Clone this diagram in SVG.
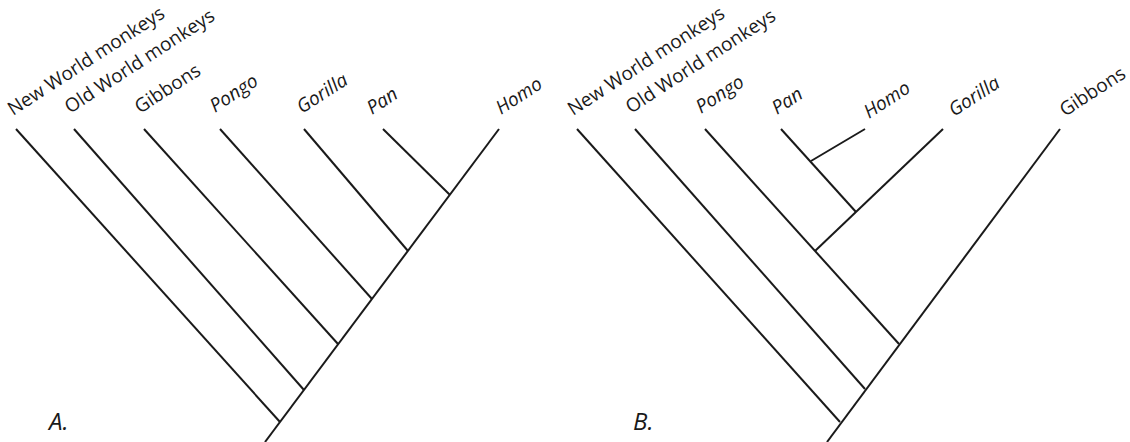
<svg xmlns="http://www.w3.org/2000/svg" width="1130" height="442" viewBox="0 0 1130 442">
<style>
.br{stroke:#1a1a1a;stroke-width:2;fill:none;stroke-linecap:butt}
.lb{font-family:"Open Sans","Noto Sans",sans-serif;font-size:19px;fill:#1a1a1a}
.it{font-style:italic}
.pl{font-family:"Open Sans","Noto Sans",sans-serif;font-size:24px;font-style:italic;fill:#1a1a1a}
</style>
<rect width="1130" height="442" fill="#ffffff"/>
<g id="connectors">
<g id="treeA-branches">
<line class="br" x1="265" y1="442" x2="499" y2="129"/>
<line class="br" x1="16" y1="129" x2="280" y2="422"/>
<line class="br" x1="74" y1="129" x2="304" y2="390"/>
<line class="br" x1="144" y1="129" x2="338" y2="344"/>
<line class="br" x1="220" y1="129" x2="372" y2="299"/>
<line class="br" x1="304" y1="129" x2="408" y2="251"/>
<line class="br" x1="383" y1="129" x2="450" y2="195"/>
</g>
<g id="treeB-branches">
<line class="br" x1="827" y1="442" x2="1060" y2="129"/>
<line class="br" x1="577" y1="129" x2="840" y2="422"/>
<line class="br" x1="635" y1="129" x2="865" y2="389"/>
<line class="br" x1="705" y1="129" x2="899" y2="344"/>
<line class="br" x1="943" y1="129" x2="815" y2="251"/>
<line class="br" x1="781" y1="129" x2="856" y2="212"/>
<line class="br" x1="865" y1="129" x2="811" y2="161"/>
</g>
</g>
<g id="A-nwm"><text class="lb" transform="translate(13,116) rotate(-33)">New World monkeys</text></g>
<g id="A-owm"><text class="lb" transform="translate(70,114) rotate(-33)">Old World monkeys</text></g>
<g id="A-gibbons"><text class="lb" transform="translate(140,114) rotate(-33)">Gibbons</text></g>
<g id="A-pongo"><text class="lb it" transform="translate(215,113) rotate(-33)">Pongo</text></g>
<g id="A-gorilla"><text class="lb it" transform="translate(302,114) rotate(-33)">Gorilla</text></g>
<g id="A-pan"><text class="lb it" transform="translate(372,115) rotate(-33)">Pan</text></g>
<g id="A-homo"><text class="lb it" transform="translate(501,115) rotate(-33)">Homo</text></g>
<g id="A-label"><text class="pl" x="49" y="430">A.</text></g>
<g id="B-nwm"><text class="lb" transform="translate(573,116) rotate(-33)">New World monkeys</text></g>
<g id="B-owm"><text class="lb" transform="translate(631,114) rotate(-33)">Old World monkeys</text></g>
<g id="B-pongo"><text class="lb it" transform="translate(701,114) rotate(-33)">Pongo</text></g>
<g id="B-pan"><text class="lb it" transform="translate(777,115) rotate(-33)">Pan</text></g>
<g id="B-homo"><text class="lb it" transform="translate(869,119) rotate(-33)">Homo</text></g>
<g id="B-gorilla"><text class="lb it" transform="translate(954,117) rotate(-33)">Gorilla</text></g>
<g id="B-gibbons"><text class="lb" transform="translate(1065,117) rotate(-33)">Gibbons</text></g>
<g id="B-label"><text class="pl" x="633" y="430">B.</text></g>
</svg>
